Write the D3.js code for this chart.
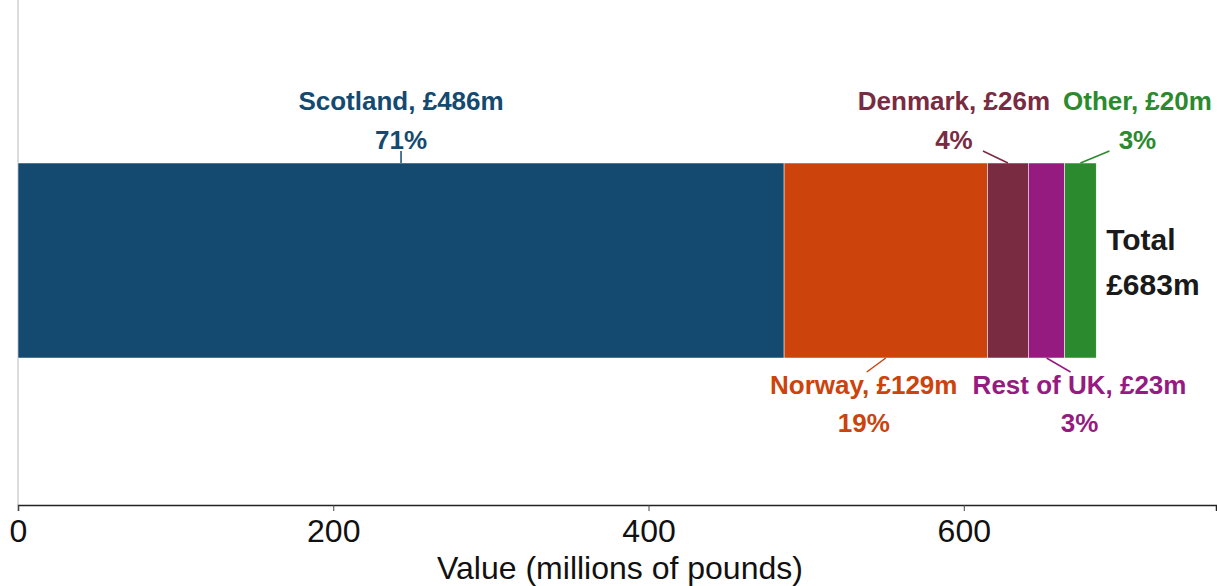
<!DOCTYPE html>
<html>
<head>
<meta charset="utf-8">
<script src="https://cdn.jsdelivr.net/npm/d3@7"></script>
<style>
  body { margin: 0; background: #fff; }
  svg { display: block; font-family: "Liberation Sans", Arial, sans-serif; }
</style>
</head>
<body>
<svg id="chart" width="1217" height="586"></svg>
<script>
// Stacked single bar: value of landings by nationality

const categories = ["Scotland", "Norway", "Denmark", "Rest of UK", "Other"];
const values = [486, 129, 26, 23, 20];
const shares = ["71%", "19%", "4%", "3%", "3%"];
const totalLabel = "£683m";
const ticks = [0, 200, 400, 600];

const colors = ["#154a70", "#cc430c", "#782b41", "#961b80", "#2c8a2e"];
// label placement: above/below bar, label offset and leader end offset from segment middle
const labelPos = [
  { side: "top", dx: 0, lx: 0 },
  { side: "bottom", dx: -22, lx: -19 },
  { side: "top", dx: -54, lx: -25 },
  { side: "bottom", dx: 33, lx: 24 },
  { side: "top", dx: 57, lx: 29 }
];

const svg = d3.select("#chart");
const axisY = 505;
const barTop = 163, barBottom = 358;

const x = d3.scaleLinear().domain([0, 760]).range([18, 1216]);

// stack the values
let acc = 0;
const segs = values.map((v, i) => {
  const s = { name: categories[i], value: v, share: shares[i], x0: acc, x1: acc + v, i };
  acc += v;
  return s;
});

// left axis line
svg.append("line")
  .attr("x1", x(0)).attr("x2", x(0))
  .attr("y1", 0).attr("y2", axisY)
  .attr("stroke", "#d0d0d0").attr("stroke-width", 1.5);

// bar segments
svg.selectAll(".seg")
  .data(segs)
  .enter()
  .append("rect")
  .attr("class", "seg")
  .attr("x", d => x(d.x0))
  .attr("width", d => x(d.x1) - x(d.x0))
  .attr("y", barTop)
  .attr("height", barBottom - barTop)
  .attr("fill", d => colors[d.i])
  .attr("stroke", "#fff")
  .attr("stroke-width", 0.5);

// x axis
const xAxis = d3.axisBottom(x).tickValues(ticks).tickSize(6).tickPadding(8).tickFormat(d3.format("d"));
const gx = svg.append("g")
  .attr("transform", `translate(0, ${axisY})`)
  .call(xAxis);
gx.select(".domain").attr("stroke", "#222").attr("stroke-width", 1.5);
gx.selectAll(".tick line").attr("stroke", "#444");
gx.selectAll(".tick text")
  .attr("font-size", 32)
  .attr("fill", "#111")
  .attr("font-family", "Liberation Sans, Arial, sans-serif");

svg.append("text")
  .attr("x", 620)
  .attr("y", 579)
  .attr("text-anchor", "middle")
  .attr("font-size", 32)
  .attr("fill", "#111")
  .text("Value (millions of pounds)");

// segment labels
segs.forEach(d => {
  const p = labelPos[d.i];
  const mid = x((d.x0 + d.x1) / 2);
  const cx = mid + p.dx;
  const top = p.side === "top";
  const y1 = top ? 110 : 394;
  const y2 = top ? 149 : 432;

  svg.append("line")
    .attr("x1", mid).attr("y1", top ? barTop : barBottom)
    .attr("x2", mid + p.lx).attr("y2", top ? 151 : 372)
    .attr("stroke", colors[d.i]).attr("stroke-width", 1.5);

  svg.append("text")
    .attr("x", cx).attr("y", y1)
    .attr("text-anchor", "middle")
    .attr("font-size", 26).attr("font-weight", "bold")
    .attr("fill", colors[d.i])
    .text(`${d.name}, £${d.value}m`);

  svg.append("text")
    .attr("x", cx).attr("y", y2)
    .attr("text-anchor", "middle")
    .attr("font-size", 26).attr("font-weight", "bold")
    .attr("fill", colors[d.i])
    .text(d.share);
});

// total label
const totalX = x(acc) + 10;
svg.append("text")
  .attr("x", totalX).attr("y", 250)
  .attr("font-size", 30).attr("font-weight", "bold").attr("fill", "#1a1a1a")
  .text("Total");
svg.append("text")
  .attr("x", totalX).attr("y", 295)
  .attr("font-size", 30).attr("font-weight", "bold").attr("fill", "#1a1a1a")
  .text(totalLabel);
</script>
</body>
</html>
